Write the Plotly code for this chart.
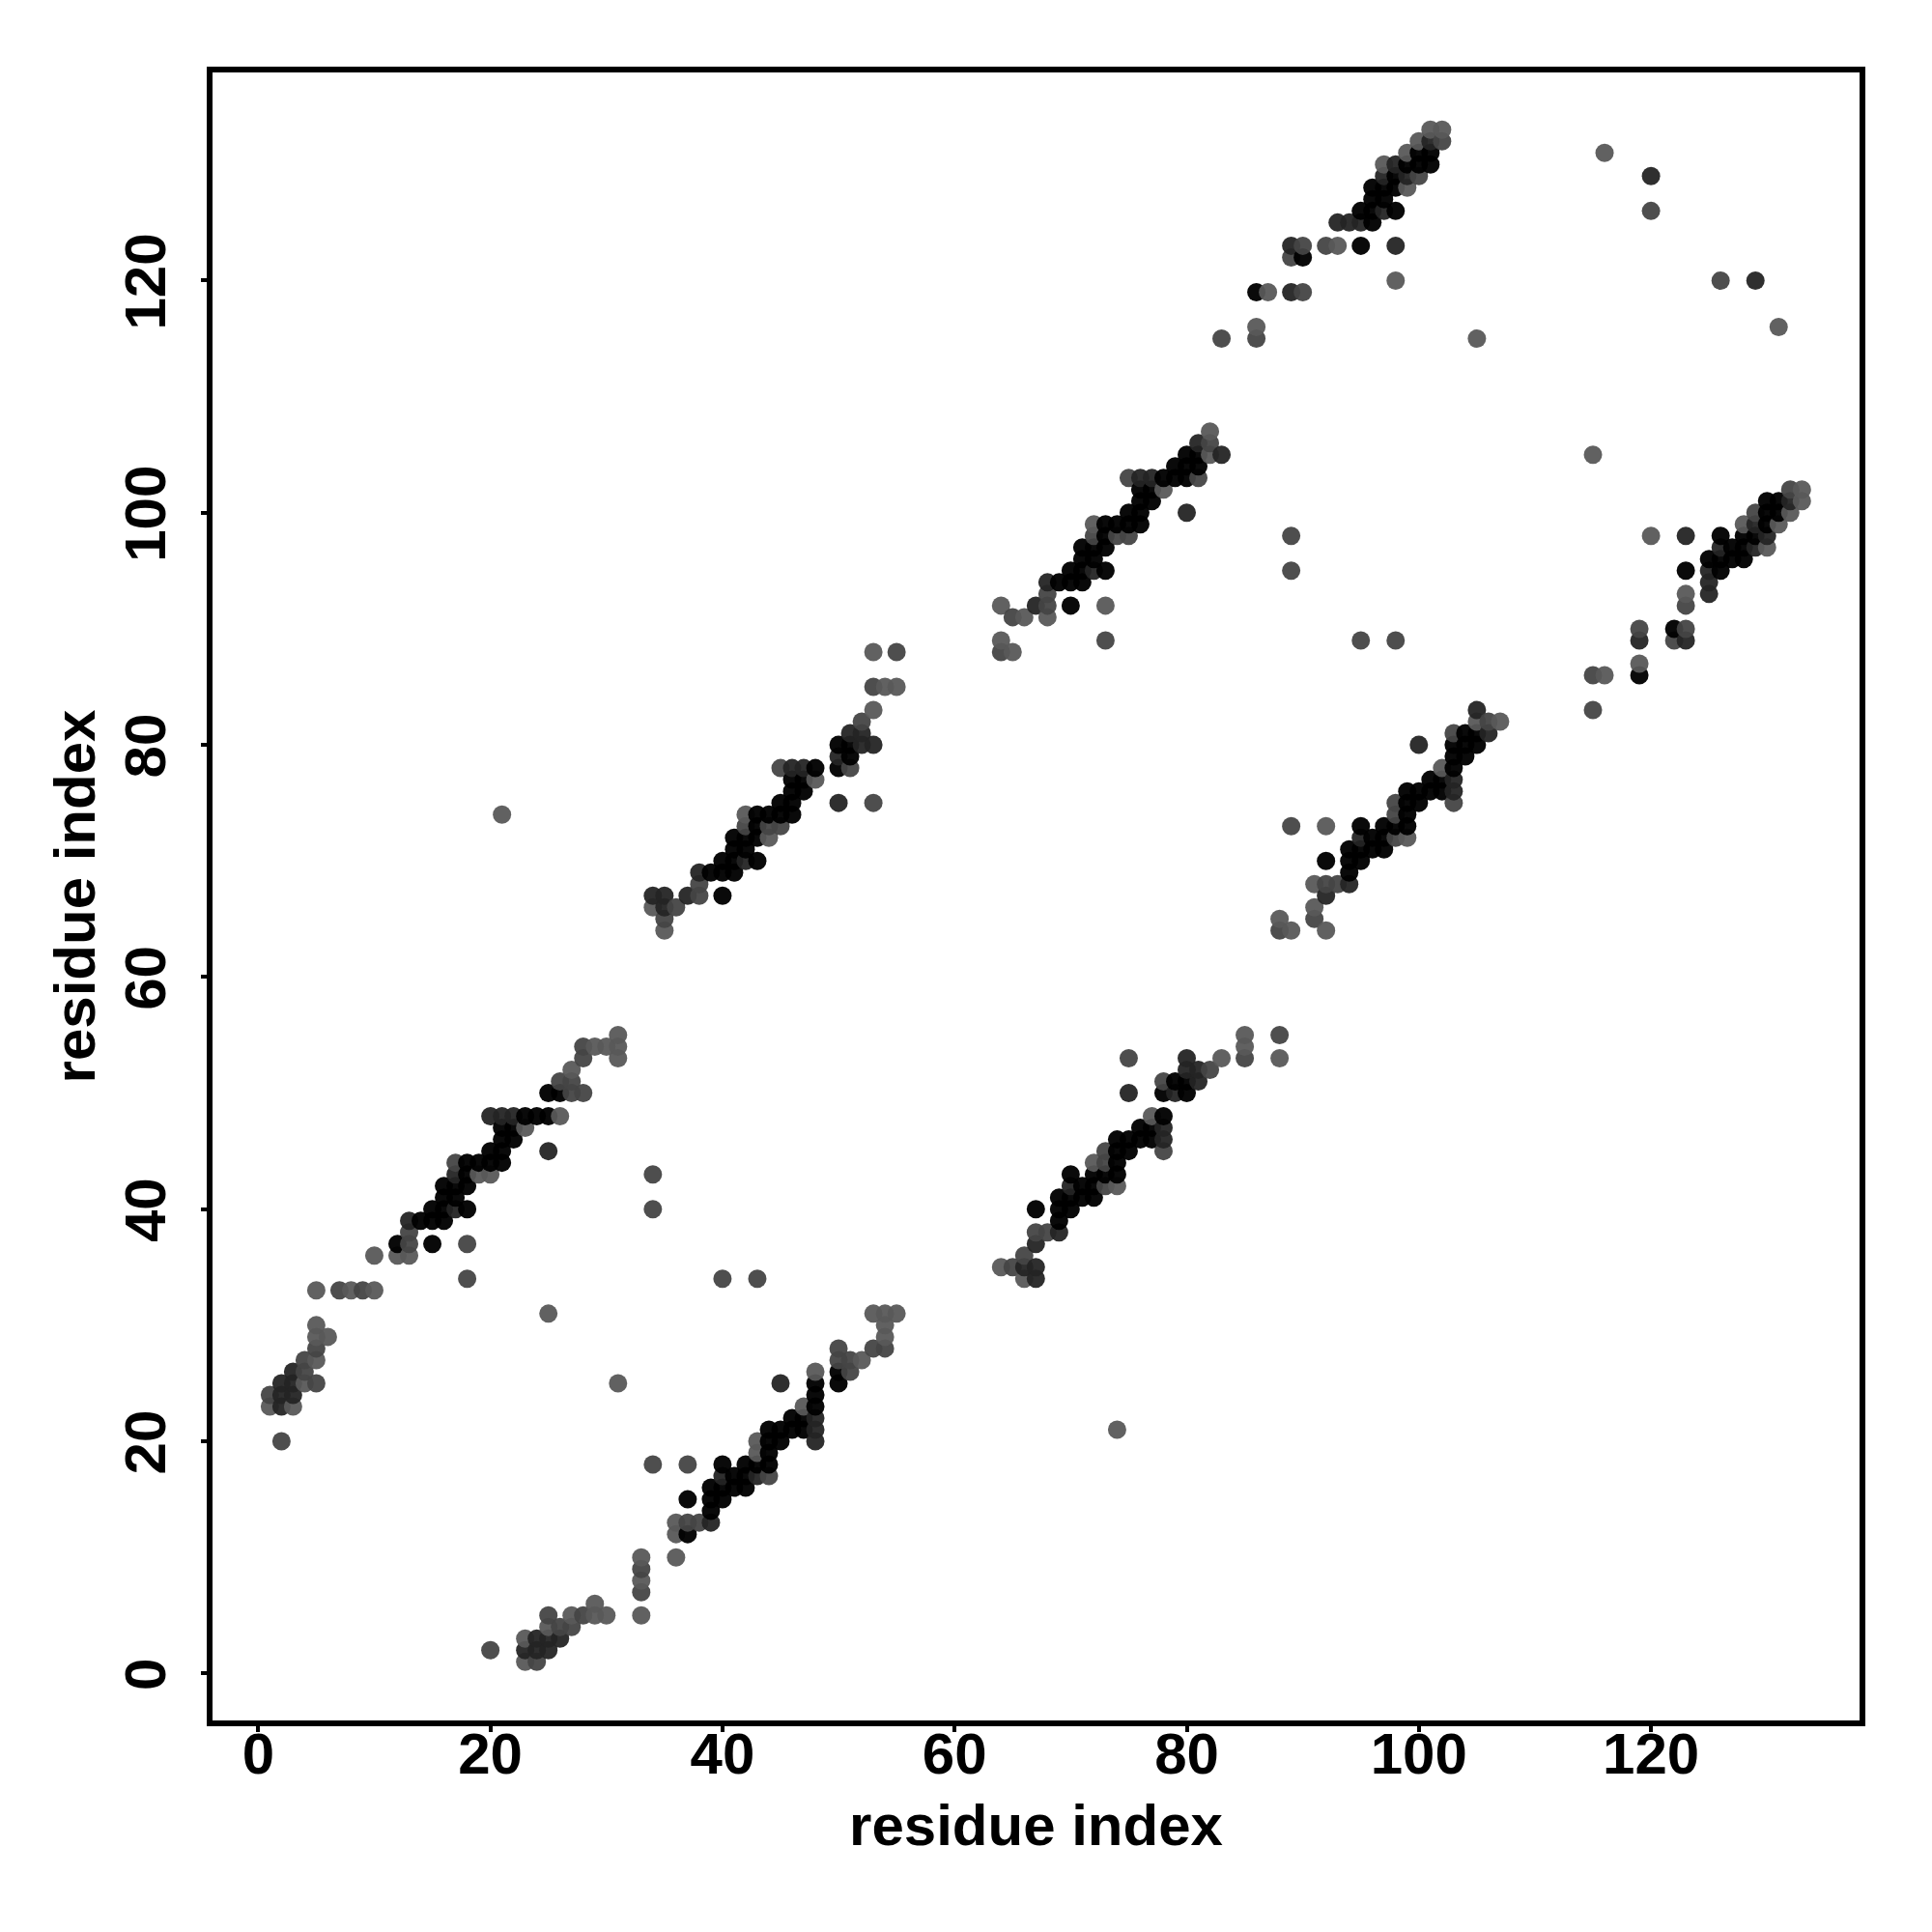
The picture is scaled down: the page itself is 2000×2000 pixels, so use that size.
import plotly.graph_objects as go

# (residue i, residue j, shade code); the map is symmetric, so each contact is drawn twice
block_a = [
 (2,20,"M"),(1,23,"L"),(2,23,"D"),(3,23,"L"),(1,24,"M"),(2,24,"D"),(3,24,"D"),
 (2,25,"D"),(3,25,"D"),(4,25,"L"),(5,25,"M"),(3,26,"D"),(4,26,"M"),(4,27,"M"),(5,27,"L"),
 (5,28,"M"),(5,29,"L"),(6,29,"L"),(5,30,"L"),(5,33,"L"),(7,33,"M"),(8,33,"L"),(9,33,"M"),(10,33,"L"),
 (10,36,"L"),(12,36,"L"),(13,36,"L"),(12,37,"K"),(13,37,"M"),(15,37,"K"),(18,37,"M"),(18,34,"M"),
 (13,38,"M"),(13,39,"D"),(14,39,"K"),(15,39,"K"),(16,39,"K"),(15,40,"K"),(16,40,"K"),(17,40,"D"),(18,40,"K"),
 (16,41,"K"),(17,41,"K"),(16,42,"K"),(17,42,"K"),(18,42,"K"),(17,43,"D"),(18,43,"K"),(19,43,"L"),(20,43,"L"),
 (17,44,"M"),(18,44,"K"),(19,44,"K"),(20,44,"K"),(21,44,"K"),(20,45,"K"),(21,45,"K"),(25,45,"D"),
 (21,46,"K"),(22,46,"K"),(21,47,"K"),(22,47,"K"),(23,47,"L"),
 (20,48,"D"),(21,48,"D"),(22,48,"D"),(23,48,"K"),(24,48,"K"),(25,48,"K"),(26,48,"L"),
 (25,50,"K"),(26,50,"K"),(27,50,"M"),(28,50,"M"),(26,51,"M"),(27,51,"M"),(27,52,"L"),
 (28,53,"M"),(31,53,"L"),(28,54,"M"),(29,54,"L"),(30,54,"L"),(31,54,"L"),(31,55,"L"),
 (34,43,"M"),(34,40,"M"),(25,31,"L"),(21,74,"L"),
]
block_b = [
 (35,64,"L"),(35,65,"M"),(34,66,"L"),(35,66,"D"),(36,66,"M"),(34,67,"D"),(35,67,"D"),(37,67,"D"),(38,67,"M"),(40,67,"K"),
 (38,68,"M"),(38,69,"D"),(39,69,"K"),(40,69,"K"),(41,69,"K"),(40,70,"K"),(41,70,"K"),(42,70,"D"),(43,70,"K"),
 (41,71,"K"),(42,71,"K"),(41,72,"K"),(42,72,"K"),(43,72,"K"),(44,72,"L"),(42,73,"M"),(43,73,"K"),(44,73,"M"),(45,73,"M"),
 (42,74,"L"),(43,74,"K"),(44,74,"K"),(45,74,"K"),(46,74,"K"),(45,75,"K"),(46,75,"K"),(50,75,"D"),(53,75,"M"),
 (46,76,"K"),(47,76,"K"),(46,77,"K"),(47,77,"K"),(48,77,"L"),(45,78,"M"),(46,78,"D"),(47,78,"D"),(48,78,"K"),(50,78,"K"),(51,78,"M"),
 (50,79,"D"),(51,79,"K"),(50,80,"K"),(51,80,"K"),(52,80,"D"),(53,80,"D"),(51,81,"D"),(52,81,"D"),(52,82,"M"),(53,83,"L"),
 (53,85,"M"),(54,85,"L"),(55,85,"L"),(53,88,"L"),(55,88,"M"),
]
block_c = [
 (64,88,"M"),(65,88,"L"),(64,89,"L"),(73,89,"M"),(65,91,"M"),(66,91,"L"),(68,91,"L"),
 (64,92,"L"),(67,92,"D"),(68,92,"M"),(70,92,"K"),(73,92,"L"),(68,93,"M"),(68,94,"D"),(69,94,"K"),(70,94,"K"),(71,94,"K"),
 (70,95,"K"),(71,95,"K"),(72,95,"D"),(73,95,"K"),(71,96,"K"),(72,96,"K"),(71,97,"K"),(72,97,"K"),(73,97,"K"),
 (72,98,"M"),(73,98,"K"),(74,98,"M"),(75,98,"M"),(72,99,"L"),(73,99,"K"),(74,99,"K"),(75,99,"K"),(76,99,"K"),
 (75,100,"K"),(76,100,"K"),(80,100,"D"),(76,101,"K"),(77,101,"K"),(76,102,"K"),(77,102,"K"),(78,102,"L"),
 (75,103,"M"),(76,103,"D"),(77,103,"D"),(78,103,"K"),(79,103,"K"),(80,103,"K"),(81,103,"M"),
 (79,104,"K"),(80,104,"K"),(81,104,"K"),(80,105,"K"),(81,105,"K"),(82,105,"L"),(83,105,"D"),
 (81,106,"D"),(82,106,"M"),(82,107,"L"),
]
block_d = [
 (83,115,"M"),(86,115,"M"),(86,116,"L"),(105,115,"L"),(86,119,"K"),(87,119,"L"),(89,119,"D"),(90,119,"M"),(98,120,"L"),
 (89,122,"M"),(90,122,"K"),(89,123,"D"),(90,123,"M"),(92,123,"M"),(93,123,"L"),(95,123,"K"),(98,123,"D"),
 (93,125,"D"),(94,125,"D"),(95,125,"D"),(96,125,"K"),(95,126,"K"),(96,126,"K"),(97,126,"D"),(98,126,"K"),
 (96,127,"K"),(97,127,"K"),(96,128,"K"),(97,128,"K"),(98,128,"K"),(99,128,"L"),
 (97,129,"D"),(98,129,"K"),(99,129,"D"),(100,129,"M"),(97,130,"L"),(98,130,"D"),(99,130,"K"),(100,130,"K"),(101,130,"K"),
 (99,131,"L"),(100,131,"K"),(101,131,"K"),(100,132,"L"),(101,132,"D"),(102,132,"M"),(101,133,"L"),(102,133,"L"),
]
block_far = [(116,131,"L"),(120,129,"D"),(120,126,"M"),(89,95,"M"),(89,98,"M")]

shade_rgba = {"L": "rgba(88,88,88,0.95)", "M": "rgba(68,68,68,0.95)",
              "D": "rgba(36,36,36,0.95)", "K": "rgba(0,0,0,0.96)"}
tick_values = [0, 20, 40, 60, 80, 100, 120]
axis_title = "residue index"

contacts = block_a + block_b + block_c + block_d + block_far
points = sorted([(c[0], c[1], c[2]) for c in contacts] + [(c[1], c[0], c[2]) for c in contacts])
xs = [p[0] for p in points]
ys = [p[1] for p in points]
colors = [shade_rgba[p[2]] for p in points]

TEXT = dict(family="Liberation Sans", size=60, color="black", weight="bold")
axis_common = dict(
    tickmode="array", tickvals=tick_values, ticktext=[str(v) for v in tick_values],
    ticks="outside", ticklen=6, tickwidth=4, tickcolor="black",
    showline=True, linewidth=6, linecolor="black", mirror=True,
    showgrid=False, zeroline=False, tickfont=TEXT,
)

fig = go.Figure(go.Scatter(
    x=xs, y=ys, mode="markers",
    marker=dict(size=19, color=colors, line=dict(width=0)),
))
fig.update_layout(
    width=2000, height=2000, autosize=False,
    paper_bgcolor="white", plot_bgcolor="white", showlegend=False,
    margin=dict(l=212, r=83, t=67, b=227, pad=0),
    xaxis=dict(range=[-3.94, 137.97], ticklabelstandoff=-29,
               title=dict(text=axis_title, font=TEXT, standoff=22), **axis_common),
    yaxis=dict(range=[-4.05, 137.93], tickangle=-90, ticklabelstandoff=13, ticklabelshift=10,
               title=dict(text=axis_title, font=TEXT, standoff=1), **axis_common),
)
fig.write_html("out.html")
